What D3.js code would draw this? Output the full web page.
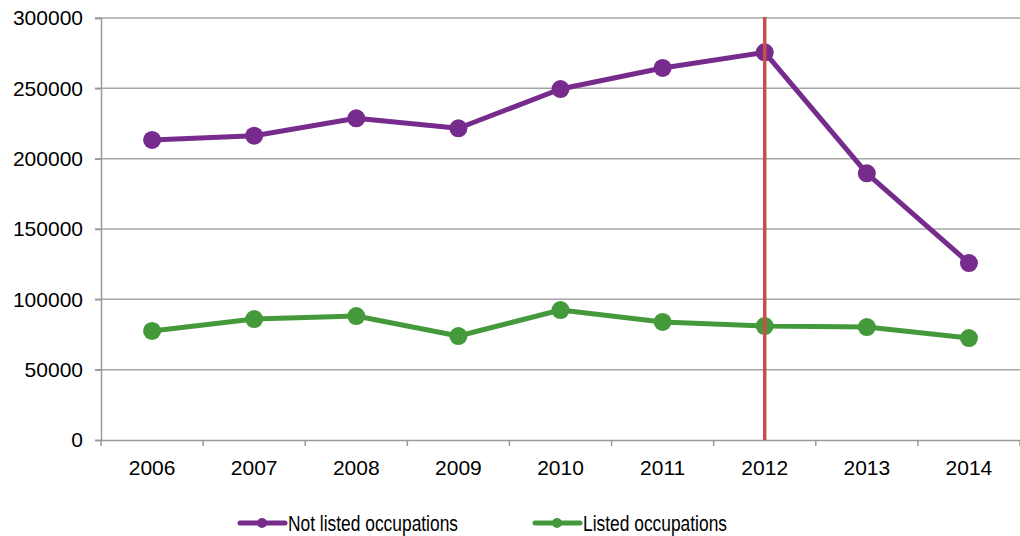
<!DOCTYPE html>
<html>
<head>
<meta charset="utf-8">
<script src="https://cdn.jsdelivr.net/npm/d3@7/dist/d3.min.js"></script>
<style>
  body { margin: 0; background: #fff; }
  svg { display: block; font-family: "Liberation Sans", Arial, sans-serif; }
</style>
</head>
<body>
<svg id="chart" width="1020" height="536"></svg>
<script>
// chart data
const years = ["2006", "2007", "2008", "2009", "2010", "2011", "2012", "2013", "2014"];
const notListed = [213300, 216300, 228700, 221600, 249500, 264500, 275600, 189600, 125800];
const listed = [77500, 86000, 88100, 73900, 92400, 83900, 81000, 80300, 72500];
const yTicks = [0, 50000, 100000, 150000, 200000, 250000, 300000];
const seriesNames = ["Not listed occupations", "Listed occupations"];
const markerYear = "2012";

const width = 1020, height = 536;
const margin = {left: 101, right: 0, top: 18, bottom: 96};
const drawWidth = width - margin.left - margin.right;
const drawHeight = height - margin.top - margin.bottom;

const svg = d3.select("#chart");
const g = svg.append("g").attr("transform", `translate(${margin.left},${margin.top})`);

const xBand = d3.scaleBand().domain(years).range([0, drawWidth]);
const xScale = d => xBand(d) + xBand.bandwidth() / 2;
const yScale = d3.scaleLinear().domain([0, 300000]).range([drawHeight, 0]);

// gridlines
g.selectAll(".grid").data(yTicks.filter(d => d > 0)).enter().append("line")
    .attr("x1", -6).attr("x2", drawWidth)
    .attr("y1", d => yScale(d)).attr("y2", d => yScale(d))
    .style("stroke", "#a6a6a6").style("stroke-width", 1.5);

// y axis
const yAxis = g.append("g").call(d3.axisLeft(yScale).tickValues(yTicks).tickSize(6).tickPadding(12).tickFormat(d3.format("d")));
yAxis.select(".domain").style("stroke", "#9a9a9a").style("stroke-width", 1.5);
yAxis.selectAll(".tick line").style("stroke", "#9a9a9a").style("stroke-width", 1.5);
yAxis.selectAll("text").style("font-size", "21px").style("fill", "#000").style("font-family", "'Liberation Sans', Arial, sans-serif");

// x axis with ticks between categories
const xAxis = g.append("g").attr("transform", `translate(0,${drawHeight})`)
    .call(d3.axisBottom(xBand).tickSize(0).tickPadding(20));
xAxis.select(".domain").style("stroke", "#9a9a9a").style("stroke-width", 1.5);
xAxis.selectAll("text").style("font-size", "21px").style("fill", "#000").style("font-family", "'Liberation Sans', Arial, sans-serif");
g.selectAll(".xtick").data(d3.range(years.length + 1)).enter().append("line")
    .attr("x1", i => i * xBand.bandwidth()).attr("x2", i => i * xBand.bandwidth())
    .attr("y1", drawHeight).attr("y2", drawHeight + 6)
    .style("stroke", "#9a9a9a").style("stroke-width", 1.5);

// series
const series = [
    {name: seriesNames[0], values: notListed, color: "#772b8d"},
    {name: seriesNames[1], values: listed, color: "#449a3b"}
];
const line = d3.line().x((d, i) => xScale(years[i])).y(d => yScale(d));

series.forEach(s => {
    g.append("path").datum(s.values)
        .attr("d", line)
        .style("fill", "none").style("stroke", s.color).style("stroke-width", 5)
        .style("stroke-linejoin", "round");
    g.selectAll(null).data(s.values).enter().append("circle")
        .attr("cx", (d, i) => xScale(years[i]))
        .attr("cy", d => yScale(d))
        .attr("r", 9)
        .style("fill", s.color);
});

// red marker line at 2012
g.append("line")
    .attr("x1", xScale(markerYear)).attr("x2", xScale(markerYear))
    .attr("y1", -1).attr("y2", drawHeight)
    .style("stroke", "#c84f4b").style("stroke-width", 3.5);

// legend
const legendItems = [
    {x: 240, textWidth: 170, s: series[0]},
    {x: 535, textWidth: 144, s: series[1]}
];
const legendY = 523;
legendItems.forEach(item => {
    svg.append("line")
        .attr("x1", item.x).attr("x2", item.x + 45)
        .attr("y1", legendY).attr("y2", legendY)
        .style("stroke", item.s.color).style("stroke-width", 5).style("stroke-linecap", "round");
    svg.append("circle")
        .attr("cx", item.x + 22).attr("cy", legendY).attr("r", 5)
        .style("fill", item.s.color);
    svg.append("text")
        .attr("x", item.x + 48).attr("y", legendY + 8)
        .attr("textLength", item.textWidth).attr("lengthAdjust", "spacingAndGlyphs")
        .style("font-size", "22px").style("fill", "#000")
        .text(item.s.name);
});
</script>
</body>
</html>
